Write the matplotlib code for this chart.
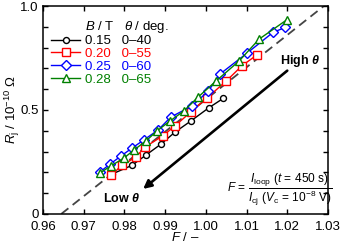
import matplotlib
matplotlib.use('Agg')
import matplotlib.pyplot as plt
from matplotlib.lines import Line2D
from matplotlib.ticker import MultipleLocator

# fonts (Arial-like)
plt.rcParams['font.family'] = ['Liberation Sans', 'DejaVu Sans']
plt.rcParams['mathtext.fontset'] = 'custom'
plt.rcParams['mathtext.rm'] = 'Liberation Sans'
plt.rcParams['mathtext.it'] = 'Liberation Sans:italic'
plt.rcParams['mathtext.bf'] = 'Liberation Sans:bold'
plt.rcParams['mathtext.bfit'] = 'Liberation Sans:bold:italic'
plt.rcParams['font.size'] = 9.5

# data: F vs Rj for each field
F_015 = [0.9770, 0.9818, 0.9853, 0.9890, 0.9924, 0.9964, 1.0007, 1.0043]
R_015 = [0.192, 0.233, 0.283, 0.336, 0.393, 0.448, 0.510, 0.556]

F_020 = [0.9767, 0.9795, 0.9828, 0.9851, 0.9894, 0.9924, 0.9964, 1.0003, 1.0050, 1.0089, 1.0125]
R_020 = [0.188, 0.233, 0.274, 0.322, 0.375, 0.423, 0.492, 0.558, 0.639, 0.713, 0.764]

F_025 = [0.9740, 0.9765, 0.9792, 0.9819, 0.9848, 0.9883, 0.9914, 0.9966, 1.0006, 1.0035, 1.0101, 1.0165, 1.0195]
R_025 = [0.202, 0.240, 0.279, 0.317, 0.356, 0.404, 0.466, 0.519, 0.591, 0.673, 0.773, 0.873, 0.897]

F_028 = [0.9740, 0.9767, 0.9799, 0.9824, 0.9853, 0.9880, 0.9912, 0.9946, 0.9981, 1.0025, 1.0082, 1.0131, 1.0200]
R_028 = [0.197, 0.231, 0.269, 0.308, 0.351, 0.399, 0.447, 0.495, 0.562, 0.639, 0.736, 0.841, 0.935]

B_labels = ['0.15', '0.20', '0.25', '0.28']
theta_labels = ['0\u201340', '0\u201355', '0\u201360', '0\u201365']
colors = ['black', 'red', 'blue', 'green']
markers = ['o', 's', 'D', '^']
msizes = [4.3, 5.5, 5.0, 6.0]

# dashed guide line
guide_F = [0.9645, 1.0290]
guide_R = [0.0, 1.0]

fig = plt.figure(figsize=(3.42, 2.47), dpi=100)
ax = fig.add_axes([0.1257, 0.134, 0.8333, 0.8417])

ax.plot(guide_F, guide_R, color='#444444', ls=(0, (5, 3)), lw=1.3, zorder=1)

series = [(F_015, R_015), (F_020, R_020), (F_025, R_025), (F_028, R_028)]
handles = []
for (fx, ry), c, m, ms in zip(series, colors, markers, msizes):
    ln, = ax.plot(fx, ry, color=c, marker=m, ms=ms, mfc='white', mec=c,
                  mew=1.0, lw=1.0, zorder=3)
    handles.append(ln)

# legend with a header row
head = Line2D([], [], color='none')
labels = [r'$B$ / T   $\theta$ / deg.'] + [b + '   ' + t for b, t in zip(B_labels, theta_labels)]
leg = ax.legend([head] + handles, labels, loc='upper left',
                bbox_to_anchor=(0.01, 0.965), frameon=False,
                handlelength=2.2, handletextpad=0.4, labelspacing=0.04,
                borderaxespad=0, fontsize=9.5)
for txt, c in zip(leg.get_texts()[1:], colors):
    txt.set_color(c)

# arrow and labels
ax.annotate('', xy=(0.9846, 0.120), xytext=(1.0200, 0.689),
            arrowprops=dict(arrowstyle='-|>', color='black', lw=1.9,
                            mutation_scale=12, shrinkA=0, shrinkB=0))
ax.text(1.0231, 0.736, r'$\mathbf{High}\ \boldsymbol{\theta}$', ha='center', va='center', fontsize=9)
ax.text(0.9793, 0.072, r'$\mathbf{Low}\ \boldsymbol{\theta}$', ha='center', va='center', fontsize=9)
ax.text(1.0182, 0.115,
        r'$F\,=\,\dfrac{I_{\rm loop}\ (t\,=\,450\ {\rm s})}{I_{\rm cj}\ (V_{\rm c}\,=\,10^{-8}\ {\rm V})}$',
        ha='center', va='center', fontsize=8.6)

ax.set_xlim(0.96, 1.03)
ax.set_ylim(0, 1.0)
ax.xaxis.set_major_locator(MultipleLocator(0.01))
ax.yaxis.set_major_locator(MultipleLocator(0.5))
ax.yaxis.set_minor_locator(MultipleLocator(0.1))
ax.set_xticklabels([f'{v:.2f}' for v in ax.get_xticks()])
ax.set_yticks([0, 0.5, 1.0])
ax.set_yticklabels(['0', '0.5', '1.0'])
ax.tick_params(which='both', direction='in', top=True, right=True, width=1.0)
ax.tick_params(axis='x', pad=5)
ax.tick_params(axis='y', pad=3)
ax.tick_params(which='major', length=3.5)
ax.tick_params(which='minor', length=3.5)
for s in ax.spines.values():
    s.set_linewidth(1.1)

ax.set_xlabel('$F$ / \u2013', labelpad=-1)
ax.set_ylabel('$R_{\\rm j}$ / 10$^{-10}$ \u03a9', labelpad=-1)

plt.savefig('out.png', dpi=100)
